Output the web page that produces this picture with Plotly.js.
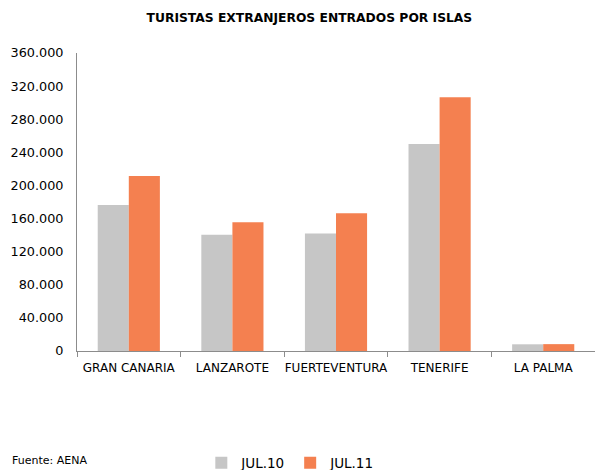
<!DOCTYPE html>
<html><head><meta charset="utf-8">
<script src="https://cdn.plot.ly/plotly-3.0.1.min.js"></script>
<style>html,body{margin:0;padding:0;background:#fff}#chart{width:595px;height:470px}</style>
</head><body><div id="chart"></div>
<script>
const categories = ["GRAN CANARIA", "LANZAROTE", "FUERTEVENTURA", "TENERIFE", "LA PALMA"];
const jul10 = [176400, 140300, 141800, 250000, 8100];
const jul11 = [211400, 155500, 166300, 306500, 8300];
const seriesNames = ["JUL.10", "JUL.11"];
const yTicks = [0, 40000, 80000, 120000, 160000, 200000, 240000, 280000, 320000, 360000];

const font = "DejaVu Sans, Verdana, sans-serif";
const data = [
  {type: "bar", name: seriesNames[0], x: categories, y: jul10, marker: {color: "#C6C6C6"}},
  {type: "bar", name: seriesNames[1], x: categories, y: jul11, marker: {color: "#F48050"}}
];
const layout = {
  width: 595, height: 470,
  margin: {l: 77, r: 0, t: 53, b: 119, autoexpand: false},
  paper_bgcolor: "#fff", plot_bgcolor: "#fff",
  separators: ",.",
  barmode: "group", bargap: 0.40, bargroupgap: 0,
  showlegend: true,
  title: {text: "<b>TURISTAS EXTRANJEROS ENTRADOS POR ISLAS</b>", x: 0.52, xanchor: "center", y: 0.962, yanchor: "middle", font: {family: font, size: 12.3, color: "#000"}},
  xaxis: {showgrid: false, zeroline: false, showline: true, linecolor: "#8c8c8c", linewidth: 1,
    ticks: "outside", tickson: "boundaries", ticklen: 5, tickcolor: "#8c8c8c", tickangle: 0,
    ticklabelstandoff: 6, automargin: false,
    tickfont: {family: font, size: 12, color: "#000"}},
  yaxis: {range: [0, 360000], tickvals: yTicks, tickformat: ",.0f", showgrid: false, zeroline: false,
    showline: true, linecolor: "#8c8c8c", linewidth: 1, ticks: "", ticklabelstandoff: 10, automargin: false,
    tickfont: {family: font, size: 12.8, color: "#000"}},
  legend: {orientation: "h", x: 0.24, xanchor: "left", y: -0.376, yanchor: "middle",
    font: {family: font, size: 13.5, color: "#000"}, itemwidth: 30, traceorder: "normal"},
  annotations: [{text: "Fuente: AENA", xref: "paper", yref: "paper", x: -0.129, xanchor: "left", y: -0.369, yanchor: "middle", showarrow: false, font: {family: font, size: 11, color: "#000"}}]
};
Plotly.newPlot("chart", data, layout, {displayModeBar: false, staticPlot: true});
</script></body></html>
